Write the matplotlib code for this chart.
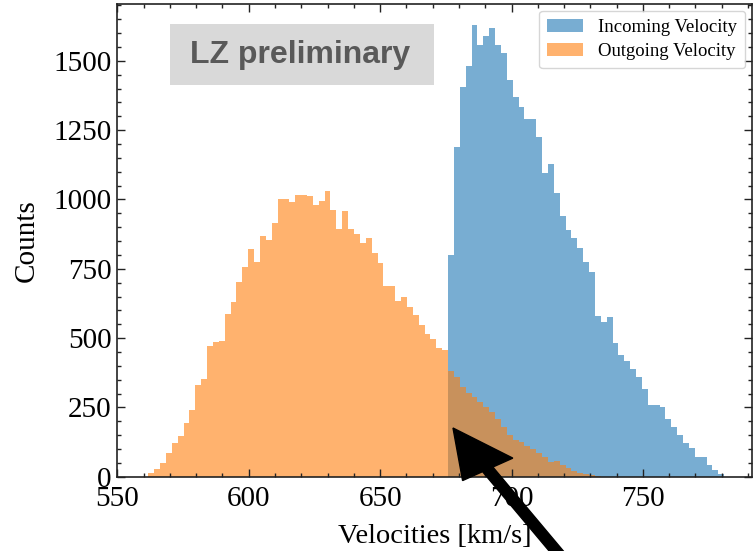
import numpy as np
import matplotlib
matplotlib.use("Agg")
import matplotlib.pyplot as plt
from matplotlib.ticker import MultipleLocator
from matplotlib.patches import Rectangle, FancyArrow

# Histogram binning shared by both samples (km/s)
bin_start = 561.8
bin_width = 2.236

# Counts per bin, outgoing velocities (first bin at bin_start)
outgoing_counts = [
    12, 27, 48, 87, 123, 147, 193, 241, 332, 351,
    472, 487, 489, 587, 631, 703, 757, 820, 775, 868,
    854, 916, 1000, 1000, 992, 1016, 1016, 1012, 980, 995,
    1031, 962, 892, 958, 892, 875, 844, 860, 808, 770,
    688, 688, 635, 647, 613, 583, 547, 515, 495, 463,
    457, 382, 361, 325, 301, 289, 271, 252, 234, 210,
    178, 150, 132, 126, 111, 99, 84, 72, 54, 58,
    42, 30, 22, 14, 10, 6, 3,
]

# Counts per bin, incoming velocities (first bin at bin_start + 51 bins)
incoming_offset = 51
incoming_counts = [
    800, 1190, 1406, 1482, 1629, 1557, 1589, 1620, 1557, 1527,
    1431, 1370, 1332, 1292, 1292, 1226, 1096, 1127, 1024, 940,
    890, 860, 824, 775, 739, 580, 559, 577, 481, 439,
    418, 387, 361, 315, 259, 259, 250, 207, 180, 150,
    120, 102, 72, 70, 42, 25, 10,
]

x_ticks = [550, 600, 650, 700, 750]
y_ticks = [0, 250, 500, 750, 1000, 1250, 1500]


def bins_for(n, offset=0):
    edges = bin_start + bin_width * (offset + np.arange(n + 1))
    centers = 0.5 * (edges[:-1] + edges[1:])
    return edges, centers


plt.rcParams["font.family"] = "serif"
plt.rcParams["font.serif"] = ["Liberation Serif", "DejaVu Serif"]
plt.rcParams["mathtext.fontset"] = "stix"

fig = plt.figure(figsize=(7.55, 5.51), dpi=100)
ax = fig.add_axes([0.1554, 0.1348, 0.9960 - 0.1554, 0.9927 - 0.1348])

in_edges, in_centers = bins_for(len(incoming_counts), incoming_offset)
out_edges, out_centers = bins_for(len(outgoing_counts))

ax.hist(in_centers, bins=in_edges, weights=incoming_counts,
        histtype="stepfilled", color="#1f77b4", alpha=0.6, linewidth=0,
        label="Incoming Velocity")
ax.hist(out_centers, bins=out_edges, weights=outgoing_counts,
        histtype="stepfilled", color="#ff7f0e", alpha=0.6, linewidth=0,
        label="Outgoing Velocity")

ax.set_xlim(550, 791.5)
ax.set_ylim(0, 1705)
ax.set_xticks(x_ticks)
ax.set_yticks(y_ticks)
ax.xaxis.set_minor_locator(MultipleLocator(10))
ax.yaxis.set_minor_locator(MultipleLocator(50))
ax.tick_params(which="both", direction="in", top=True, right=True,
               labelsize=21, width=1.0, color="#222222")
ax.tick_params(which="major", length=6)
ax.tick_params(which="minor", length=3)
ax.tick_params(axis="x", which="major", pad=7)
ax.tick_params(axis="y", which="major", pad=4)
for s in ax.spines.values():
    s.set_linewidth(1.2)
    s.set_color("#222222")

ax.set_xlabel("Velocities [km/s]", fontsize=20.5, labelpad=8)
ax.set_ylabel("Counts", fontsize=21, labelpad=10)

leg = ax.legend(loc="upper right", fontsize=13.5, frameon=True, fancybox=True,
                framealpha=0.8, edgecolor="#cccccc", handlelength=1.9,
                borderpad=0.45, labelspacing=0.35, handletextpad=0.8,
                borderaxespad=0.35)

# Preliminary tag in the upper left of the axes
fig.patches.append(Rectangle((170 / 755, 1 - 85 / 551), 264 / 755, 61 / 551,
                             transform=fig.transFigure, facecolor="#d9d9d9",
                             edgecolor="none", zorder=5))
fig.text(300 / 755, 1 - 55 / 551, "LZ preliminary", family="Liberation Sans",
         fontweight="bold", fontsize=23, color="#595959",
         ha="center", va="center", zorder=6)

# Pointer arrow towards the overlap region
fig.patches.append(FancyArrow(568 / 755, 1 - 565 / 551, -115 / 755, 137 / 551,
                              width=0.016, head_width=0.078, head_length=0.088,
                              length_includes_head=True, transform=fig.transFigure,
                              color="black", zorder=10))

fig.savefig("out.png", dpi=100)
